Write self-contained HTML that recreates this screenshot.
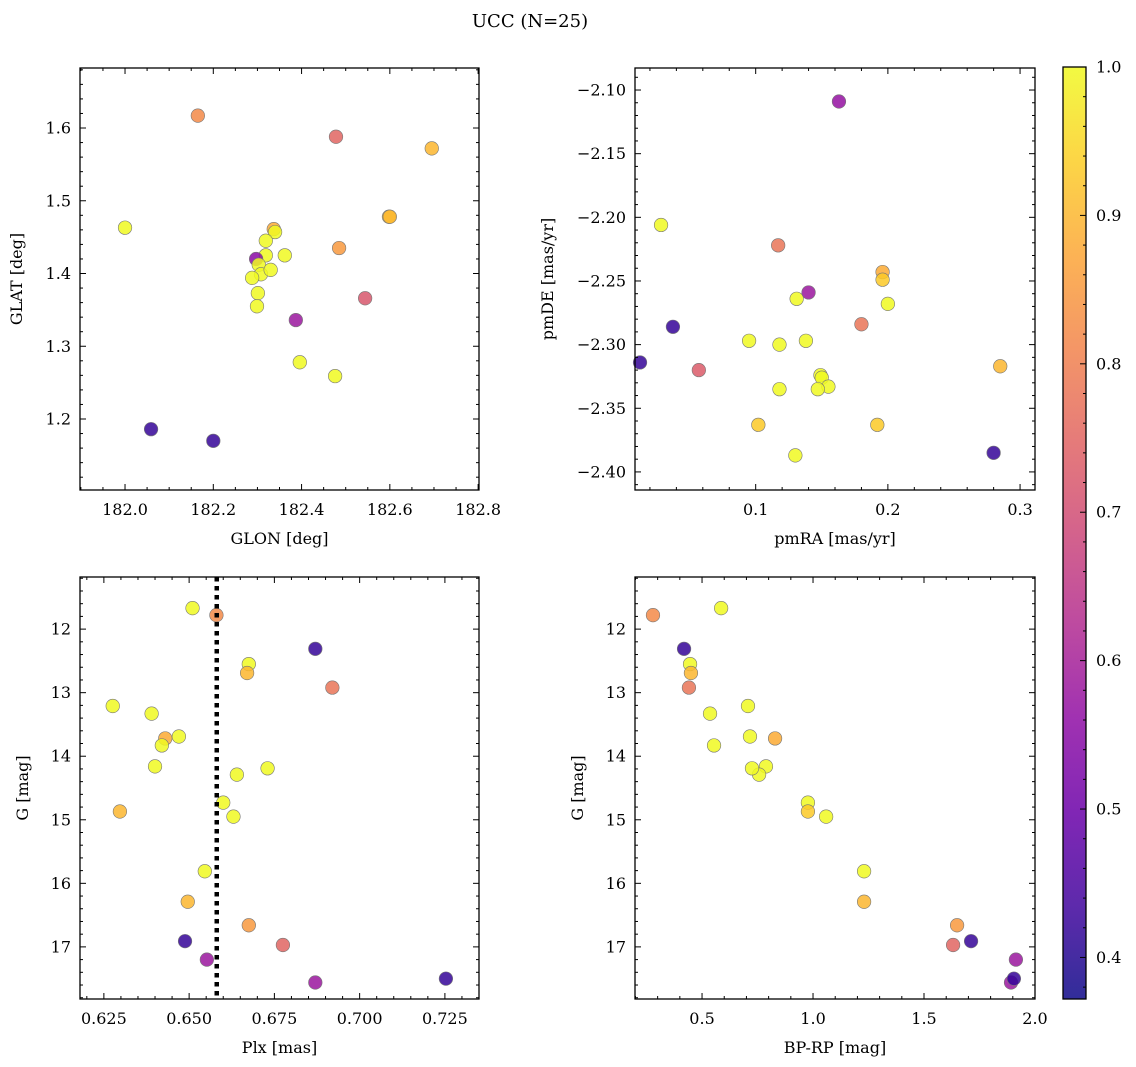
<!DOCTYPE html>
<html><head><meta charset="utf-8"><style>
html,body{margin:0;padding:0;background:#fff;}
svg{display:block;font-family:"DejaVu Serif","Liberation Serif",serif;}
</style></head><body>
<svg id="fig" width="1136" height="1067" viewBox="0 0 1136 1067" xmlns="http://www.w3.org/2000/svg">
<text x="530" y="27" text-anchor="middle" font-size="18">UCC (N=25)</text>
</svg>
<script>
// ---- data ----
const tlGlon=[182.165,182.478,182.695,182.0,182.337,182.34,182.598,182.60,182.319,182.485,182.362,182.319,182.297,182.303,182.308,182.288,182.301,182.299,182.544,182.387,182.396,182.476,182.059,182.2,182.33];
const tlGlat=[1.617,1.588,1.572,1.463,1.461,1.457,1.478,1.478,1.445,1.435,1.425,1.425,1.420,1.412,1.399,1.394,1.373,1.355,1.366,1.336,1.278,1.259,1.186,1.170,1.405];
const tlProb=[0.82,0.75,0.9,1.0,0.88,1.0,0.92,0.9,1.0,0.85,1.0,1.0,0.55,1.0,1.0,1.0,1.0,1.0,0.72,0.58,1.0,1.0,0.42,0.42,1.0];

const trPmra=[0.163,0.0284,0.117,0.196,0.196,0.2,0.131,0.140,0.180,0.0374,0.0125,0.057,0.095,0.118,0.138,0.285,0.149,0.150,0.118,0.155,0.147,0.102,0.192,0.130,0.280];
const trPmde=[-2.109,-2.206,-2.222,-2.243,-2.249,-2.268,-2.264,-2.259,-2.284,-2.286,-2.314,-2.320,-2.297,-2.300,-2.297,-2.317,-2.324,-2.326,-2.335,-2.333,-2.335,-2.363,-2.363,-2.387,-2.385];
const trProb=[0.57,1.0,0.78,0.88,0.93,1.0,1.0,0.58,0.78,0.42,0.42,0.73,1.0,1.0,1.0,0.9,1.0,1.0,1.0,1.0,1.0,0.93,0.93,1.0,0.42];

const blPlx=[0.651,0.658,0.687,0.6675,0.667,0.692,0.6276,0.639,0.643,0.647,0.642,0.640,0.664,0.673,0.660,0.663,0.6297,0.6546,0.6496,0.6675,0.6488,0.6775,0.6552,0.687,0.7253];
const gMag=[11.67,11.78,12.31,12.55,12.69,12.92,13.21,13.33,13.72,13.69,13.83,14.16,14.29,14.19,14.73,14.95,14.87,15.81,16.29,16.66,16.91,16.97,17.20,17.56,17.50];
const blProb=[1.0,0.82,0.42,1.0,0.9,0.78,1.0,1.0,0.88,1.0,1.0,1.0,1.0,1.0,1.0,1.0,0.9,1.0,0.9,0.85,0.42,0.75,0.58,0.58,0.42];
const plxLine=[0.6581];

const brBprp=[0.586,0.279,0.419,0.446,0.450,0.441,0.707,0.536,0.829,0.716,0.554,0.788,0.757,0.725,0.977,1.059,0.977,1.230,1.230,1.649,1.712,1.631,1.914,1.892,1.905];
const brG=[11.67,11.78,12.31,12.55,12.69,12.92,13.21,13.33,13.72,13.69,13.83,14.16,14.29,14.19,14.73,14.95,14.87,15.81,16.29,16.66,16.91,16.97,17.20,17.56,17.50];
const brProb=[1.0,0.82,0.42,1.0,0.9,0.78,1.0,1.0,0.88,1.0,1.0,1.0,1.0,1.0,1.0,1.0,0.93,1.0,0.9,0.85,0.42,0.75,0.58,0.58,0.42];

const cbTicks=[0.4,0.5,0.6,0.7,0.8,0.9,1.0];
const VMIN=0.372, VMAX=1.0;

// ---- helpers ----
const NS="http://www.w3.org/2000/svg";
const svg=document.getElementById('fig');
function mk(tag,attrs,parent){const e=document.createElementNS(NS,tag);for(const k in attrs)e.setAttribute(k,attrs[k]);(parent||svg).appendChild(e);return e;}
const stops=[[13,8,135],[65,4,157],[106,0,168],[143,13,164],[177,42,144],[204,71,120],[225,100,98],[242,132,75],[252,166,54],[252,206,37],[240,249,33]];
function plasma(t){t=Math.max(0,Math.min(1,t));const f=t*10,i=Math.min(9,Math.floor(f)),r=f-i;const a=stops[i],b=stops[i+1];
 return 'rgb('+a.map((v,k)=>Math.round(v+(b[k]-v)*r)).join(',')+')';}
function col(v){return plasma((v-VMIN)/(VMAX-VMIN));}
const FS=16;

function panel(o){
 const sx=v=>o.x0+(v-o.xmin)/(o.xmax-o.xmin)*(o.x1-o.x0);
 const sy=o.inv? v=>o.y0+(v-o.ymin)/(o.ymax-o.ymin)*(o.y1-o.y0)
              : v=>o.y1-(v-o.ymin)/(o.ymax-o.ymin)*(o.y1-o.y0);
 const g=mk('g',{});
 
 
 o.sx=sx;o.sy=sy;o.g=g;
 return o;
}
function frame(o){
 const g=o.g;
 const r=mk('rect',{x:o.x0,y:o.y0,width:o.x1-o.x0,height:o.y1-o.y0,fill:'none',stroke:'#000','stroke-width':1.3},g);
 
 
 const eps=1e-9;
 for(let v=Math.ceil(o.xmin/o.xminor-eps)*o.xminor;v<=o.xmax+eps;v+=o.xminor){
   const px=o.sx(v);const maj=Math.abs(v/o.xmajor-Math.round(v/o.xmajor))<1e-6;const L=maj?6:3;
   mk('line',{x1:px,x2:px,y1:o.y1,y2:o.y1-L,stroke:'#000','stroke-width':1},g);
   mk('line',{x1:px,x2:px,y1:o.y0,y2:o.y0+L,stroke:'#000','stroke-width':1},g);
 }
 o.xlabels.forEach(t=>{const e=mk('text',{x:o.sx(t[0]),y:o.y1+25,'text-anchor':'middle','font-size':FS},g);e.textContent=t[1];
   });
 const lo=Math.min(o.ymin,o.ymax),hi=Math.max(o.ymin,o.ymax);
 for(let v=Math.ceil(lo/o.yminor-eps)*o.yminor;v<=hi+eps;v+=o.yminor){
   const py=o.sy(v);const maj=Math.abs(v/o.ymajor-Math.round(v/o.ymajor))<1e-6;const L=maj?6:3;
   mk('line',{x1:o.x0,x2:o.x0+L,y1:py,y2:py,stroke:'#000','stroke-width':1},g);
   mk('line',{x1:o.x1,x2:o.x1-L,y1:py,y2:py,stroke:'#000','stroke-width':1},g);
 }
 o.ylabels.forEach(t=>{const e=mk('text',{x:o.x0-9,y:o.sy(t[0])+5.5,'text-anchor':'end','font-size':FS},g);e.textContent=t[1];
   });
 const xl=mk('text',{x:(o.x0+o.x1)/2,y:o.y1+54,'text-anchor':'middle','font-size':FS},g);xl.textContent=o.xt;
 
 const yx=o.x0-o.ytoff,yy=(o.y0+o.y1)/2;
 const yl=mk('text',{x:yx,y:yy,'text-anchor':'middle','font-size':FS,transform:'rotate(-90 '+yx+' '+yy+')'},g);yl.textContent=o.yt;
 
}
function scatter(o,xs,ys,cs){
 xs.forEach((x,i)=>{const c=mk('circle',{cx:o.sx(x),cy:o.sy(ys[i]),r:6.8,fill:col(cs[i]),'fill-opacity':0.85,stroke:'#777','stroke-width':0.6},o.g);
  
  });
}
function rng(a,b,s,f){const r=[];for(let v=a;v<=b+1e-9;v+=s)r.push([v,f(v)]);return r;}

const tl=panel({name:'glon-glat-panel',x0:80,x1:479,y0:68,y1:490,xmin:181.898,xmax:182.802,ymin:1.1024,ymax:1.6825,
 xmajor:0.2,xminor:0.05,ymajor:0.1,yminor:0.02,xt:'GLON [deg]',yt:'GLAT [deg]',ytoff:58,
 xlabels:rng(182.0,182.8,0.2,v=>v.toFixed(1)),ylabels:rng(1.2,1.6,0.1,v=>v.toFixed(1))});
scatter(tl,tlGlon,tlGlat,tlProb);frame(tl);

const tr=panel({name:'pm-panel',x0:635,x1:1035,y0:68,y1:490,xmin:0.0087,xmax:0.3113,ymin:-2.4142,ymax:-2.0827,
 xmajor:0.1,xminor:0.02,ymajor:0.05,yminor:0.01,xt:'pmRA [mas/yr]',yt:'pmDE [mas/yr]',ytoff:82,
 xlabels:rng(0.1,0.3,0.1,v=>v.toFixed(1)),ylabels:rng(-2.40,-2.10,0.05,v=>'\u2212'+Math.abs(v).toFixed(2))});
scatter(tr,trPmra,trPmde,trProb);frame(tr);

const bl=panel({name:'plx-g-panel',x0:80,x1:479,y0:577,y1:999,xmin:0.618,xmax:0.735,ymin:11.18,ymax:17.82,inv:true,
 xmajor:0.025,xminor:0.005,ymajor:1,yminor:0.2,xt:'Plx [mas]',yt:'G [mag]',ytoff:52,
 xlabels:rng(0.625,0.725,0.025,v=>v.toFixed(3)),ylabels:rng(12,17,1,v=>v.toFixed(0))});
scatter(bl,blPlx,gMag,blProb);
plxLine.forEach(p=>{const l=mk('line',{x1:bl.sx(p),x2:bl.sx(p),y1:577,y2:999,stroke:'#000','stroke-width':4.5,'stroke-dasharray':'4.5,4.5'},bl.g);
 });
frame(bl);

const br=panel({name:'cmd-panel',x0:635,x1:1035,y0:577,y1:999,xmin:0.198,xmax:2.0,ymin:11.18,ymax:17.82,inv:true,
 xmajor:0.5,xminor:0.1,ymajor:1,yminor:0.2,xt:'BP-RP [mag]',yt:'G [mag]',ytoff:52,
 xlabels:rng(0.5,2.0,0.5,v=>v.toFixed(1)),ylabels:rng(12,17,1,v=>v.toFixed(0))});
scatter(br,brBprp,brG,brProb);frame(br);

const cb=mk('g',{});


const defs=mk('defs',{},cb);const lg=mk('linearGradient',{id:'pl',x1:0,y1:1,x2:0,y2:0},defs);
for(let i=0;i<=10;i++)mk('stop',{offset:i/10,'stop-color':plasma(i/10),'stop-opacity':0.85},lg);
const CB={x0:1063,x1:1086,y0:67,y1:999};
const cy=v=>CB.y1-(v-VMIN)/(VMAX-VMIN)*(CB.y1-CB.y0);
mk('rect',{x:CB.x0,y:CB.y0,width:CB.x1-CB.x0,height:CB.y1-CB.y0,fill:'url(#pl)',stroke:'#000','stroke-width':1.3},cb);
for(let v=0.38;v<=1.0001;v+=0.02){const maj=Math.abs(v*10-Math.round(v*10))<1e-6;mk('line',{x1:CB.x1,x2:CB.x1-(maj?6:3),y1:cy(v),y2:cy(v),stroke:'#000'},cb);}
cbTicks.forEach(v=>{const t=mk('text',{x:1096,y:cy(v)+5.5,'font-size':FS},cb);t.textContent=v.toFixed(1);
 });
</script>
</body></html>
